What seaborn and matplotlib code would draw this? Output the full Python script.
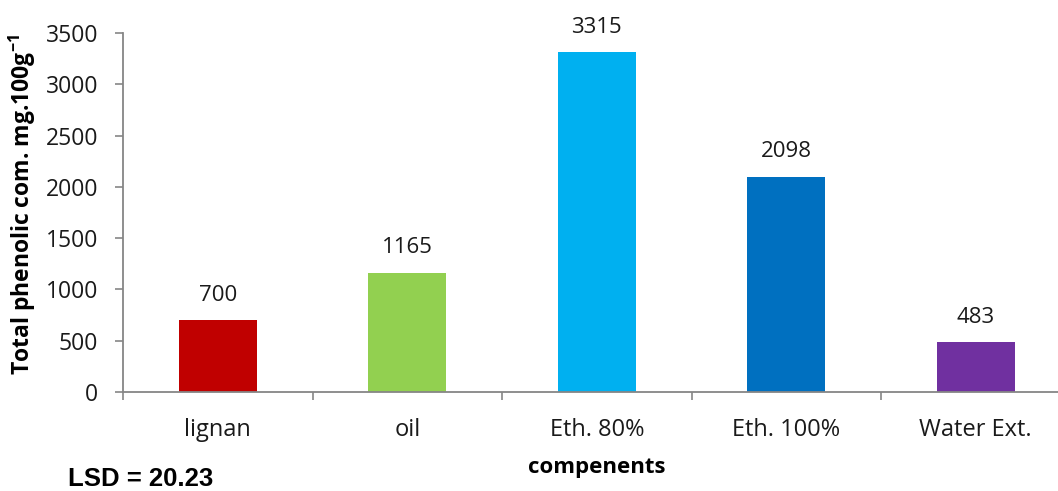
import matplotlib
matplotlib.use("Agg")
import matplotlib.pyplot as plt
import seaborn as sns
import pandas as pd

# Phenolic content per component
categories = ["lignan", "oil", "Eth. 80%", "Eth. 100%", "Water Ext."]
values = [700, 1165, 3315, 2098, 483]
colors = ["#C00000", "#92D050", "#00B0F0", "#0070C0", "#7030A0"]
y_ticks = [0, 500, 1000, 1500, 2000, 2500, 3000, 3500]

sns.set_theme(style="white")
plt.rcParams["font.family"] = ["Open Sans", "DejaVu Sans"]
plt.rcParams["mathtext.default"] = "regular"

df = pd.DataFrame({"component": categories, "value": values})

fig = plt.figure(figsize=(10.58, 4.91), dpi=100)
ax = fig.add_axes([123 / 1058, 99 / 491, 947.5 / 1058, 359 / 491])

sns.barplot(data=df, x="component", y="value", hue="component",
            palette=colors, width=0.41, legend=False, ax=ax, saturation=1,
            edgecolor="none")

ax.set_xlim(-0.5, len(categories) - 0.5)
ax.set_ylim(0, 3500)
ax.set_yticks(y_ticks)
ax.set_yticklabels([str(t) for t in y_ticks], fontsize=16.5, color="#1a1a1a")

# category labels without tick marks; boundary ticks as minor ticks
ax.set_xticks(range(len(categories)))
ax.set_xticklabels(categories, fontsize=17, color="#1a1a1a")
ax.tick_params(axis="x", which="major", length=0, pad=19, bottom=True)
ax.set_xticks([i - 0.5 for i in range(len(categories) + 1)], minor=True)
ax.tick_params(axis="x", which="minor", length=6, width=1.2, color="#868686",
               direction="out", bottom=True)
ax.tick_params(axis="y", length=6, width=1.2, color="#868686", direction="out",
               left=True, pad=12)

for side in ["top", "right"]:
    ax.spines[side].set_visible(False)
for side in ["left", "bottom"]:
    ax.spines[side].set_color("#868686")
    ax.spines[side].set_linewidth(1.3)

# value labels above bars
for i, v in enumerate(values):
    ax.text(i, v + 140, str(v), ha="center", va="bottom", fontsize=16,
            color="#1a1a1a")

ax.set_xlabel("")
ax.set_ylabel("")
fig.text(22 / 1058, 1 - 205 / 491, "Total phenolic com. mg.100g$^{-1}$",
         rotation=90, ha="center", va="center", fontsize=16.5,
         fontweight="bold", color="black")
fig.text(597 / 1058, 1 - 467 / 491, "compenents", ha="center", va="center",
         fontsize=16, fontweight="bold", color="black")
fig.text(68 / 1058, 1 - 486 / 491, "LSD = 20.23", ha="left", va="baseline",
         fontsize=18.5, fontweight="bold", color="black",
         family=["Liberation Sans", "DejaVu Sans"])

fig.savefig("out.png", dpi=100)
